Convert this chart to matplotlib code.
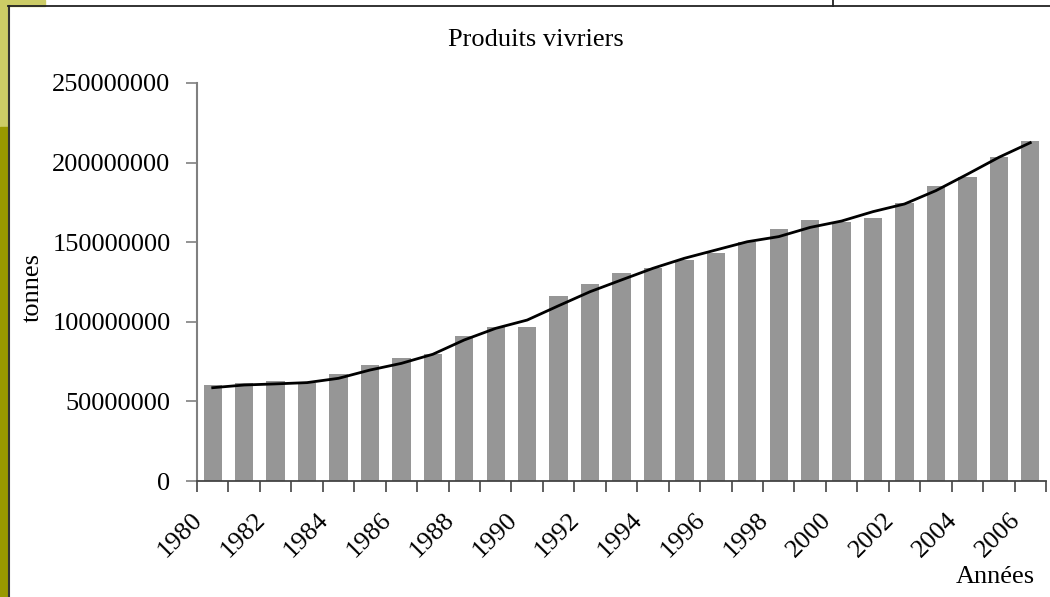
import matplotlib
matplotlib.use("Agg")
import matplotlib.pyplot as plt
from matplotlib.patches import Rectangle
from matplotlib.lines import Line2D
from matplotlib.transforms import ScaledTranslation

# données (tonnes)
years = list(range(1980, 2007))
production = [60.3e6, 61.6e6, 62.8e6, 61.8e6, 67.2e6, 72.9e6, 77.1e6, 79.8e6,
              91.1e6, 96.5e6, 96.7e6, 116.4e6, 123.5e6, 130.4e6, 133.6e6,
              138.8e6, 143.0e6, 149.9e6, 158.5e6, 163.9e6, 162.5e6, 165.4e6,
              174.4e6, 185.3e6, 190.8e6, 203.7e6, 213.4e6]
tendance = [58.6e6, 60.3e6, 61.0e6, 61.8e6, 64.5e6, 69.7e6, 73.9e6, 79.6e6,
            88.6e6, 95.9e6, 101.1e6, 110.1e6, 118.9e6, 126.3e6, 133.6e6,
            139.9e6, 145.1e6, 150.3e6, 153.5e6, 159.3e6, 163.3e6, 169.2e6,
            174.0e6, 182.4e6, 192.7e6, 203.3e6, 212.5e6]
yticks = [0, 50000000, 100000000, 150000000, 200000000, 250000000]

plt.rcParams["font.family"] = ["Liberation Serif", "DejaVu Serif"]
FS = 19

W, H = 1050, 597
fig = plt.figure(figsize=(W / 100, H / 100), dpi=100)

# décor de la diapositive
fig.patches.append(Rectangle((0, 1 - 127 / H), 8 / W, 127 / H, transform=fig.transFigure,
                             color="#cccc66", zorder=0))
fig.patches.append(Rectangle((0, 1 - 6 / H), 45 / W, 6 / H, transform=fig.transFigure,
                             color="#cccc66", zorder=0))
fig.patches.append(Rectangle((0, 0), 8 / W, 1 - 127 / H, transform=fig.transFigure,
                             color="#999900", zorder=0))
fig.lines.append(Line2D([8.5 / W, 8.5 / W], [0, 1 - 6 / H], transform=fig.transFigure,
                        color="#333333", lw=1.5))
fig.lines.append(Line2D([8 / W, 1], [1 - 6 / H, 1 - 6 / H], transform=fig.transFigure,
                        color="#222222", lw=1.3))
fig.lines.append(Line2D([833 / W, 833 / W], [1 - 6 / H, 1], transform=fig.transFigure,
                        color="#222222", lw=1.3))

ax = fig.add_axes([197 / W, 1 - 481 / H, (1046 - 197) / W, (481 - 83) / H])
x = list(range(len(years)))
ax.bar(x, production, width=0.58, color="#969696", zorder=2)
ax.plot(x, tendance, color="black", lw=2.0, zorder=3)

ax.set_xlim(-0.5, len(years) - 0.5)
ax.set_ylim(0, 250000000)
ax.set_yticks(yticks)
ax.set_yticklabels([str(v) for v in yticks], fontsize=FS)

# graduations entre les catégories, étiquettes une année sur deux
ax.set_xticks([i - 0.5 for i in range(len(years) + 1)])
ax.set_xticklabels([])
ax.set_xticks(x[::2], minor=True)
ax.set_xticklabels([str(y) for y in years[::2]], minor=True, rotation=45,
                   ha="right", va="top", fontsize=FS)
ax.tick_params(axis="x", which="minor", length=0, pad=20)
ax.tick_params(axis="x", which="major", length=8, width=1.2, color="#444444")
ax.tick_params(axis="y", length=8, width=1.2, color="#808080", pad=11)
off = ScaledTranslation(-6 / 100, 0, fig.dpi_scale_trans)
for lab in ax.get_xticklabels(minor=True):
    lab.set_transform(lab.get_transform() + off)

for s in ("top", "right"):
    ax.spines[s].set_visible(False)
ax.spines["left"].set_color("#808080")
ax.spines["left"].set_linewidth(1.5)
ax.spines["bottom"].set_color("#444444")
ax.spines["bottom"].set_linewidth(1.3)

fig.text(536 / W, 1 - 40 / H, "Produits vivriers", ha="center", va="center", fontsize=FS)
fig.text(33 / W, 1 - 288 / H, "tonnes", ha="center", va="center", rotation=90, fontsize=FS)
fig.text(1035 / W, 1 - 577 / H, "Années", ha="right", va="center", fontsize=FS)

fig.savefig("out.png", dpi=100)
